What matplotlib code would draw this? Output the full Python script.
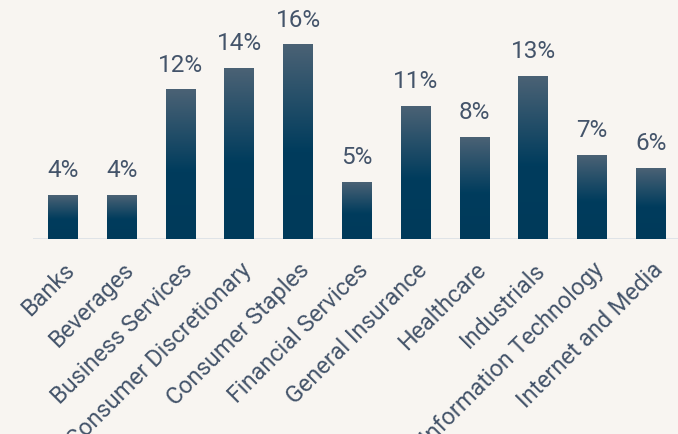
import numpy as np
import matplotlib.pyplot as plt
from matplotlib.colors import LinearSegmentedColormap

# sector weights (%)
sectors = ['Banks', 'Beverages', 'Business Services', 'Consumer Discretionary',
           'Consumer Staples', 'Financial Services', 'General Insurance',
           'Healthcare', 'Industrials', 'Information Technology',
           'Internet and Media']
weights = [3.6, 3.6, 12.3, 14.1, 16.0, 4.7, 10.9, 8.4, 13.4, 6.9, 5.8]
labels = ['4%', '4%', '12%', '14%', '16%', '5%', '11%', '8%', '13%', '7%', '6%']

BG = '#f8f5f1'
TXT = '#44546a'

plt.rcParams['font.family'] = ['Roboto', 'DejaVu Sans']

fig = plt.figure(figsize=(6.78, 4.34), dpi=100, facecolor=BG)
ax = fig.add_axes([33/678, 195/434, 645/678, 239/434])
ax.set_facecolor(BG)

x = np.arange(len(sectors))
bars = ax.bar(x, weights, width=0.51, color='none', zorder=2)

# vertical gradient in each bar, light slate at top to dark navy
cmap = LinearSegmentedColormap.from_list('g', [(0, '#003a5a'), (0.45, '#003c5d'), (1, '#4b6275')])
grad = np.linspace(0, 1, 256).reshape(-1, 1)
for b in bars:
    x0, w, h = b.get_x(), b.get_width(), b.get_height()
    ax.imshow(grad, cmap=cmap, aspect='auto', origin='lower',
              extent=[x0, x0 + w, 0, h], zorder=2, interpolation='bilinear')

for xi, v, lab in zip(x, weights, labels):
    ax.text(xi, v + 1.1, lab, ha='center', va='bottom', fontsize=17.5, color=TXT)

ax.set_xlim(-0.51, 10.46)
ax.set_ylim(0, 19.71)
ax.axhline(0, color='#dde1e6', lw=2, zorder=1)

ax.set_yticks([])
ax.set_xticks(x)
ax.set_xticklabels(sectors, rotation=45, ha='right', rotation_mode='anchor',
                   fontsize=16.8, color=TXT)
ax.tick_params(axis='x', length=0, pad=14)
for s in ax.spines.values():
    s.set_visible(False)

plt.savefig('out.png', dpi=100, facecolor=BG)
